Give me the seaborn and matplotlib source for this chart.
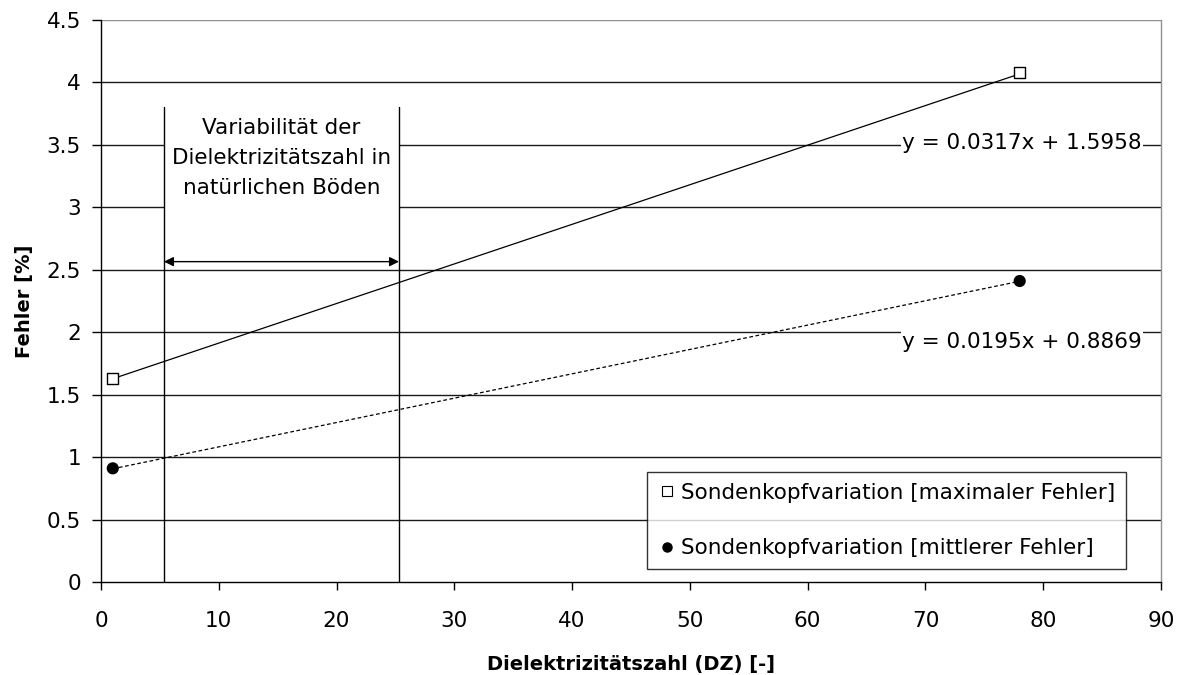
import numpy as np
import pandas as pd
import matplotlib
matplotlib.use("Agg")
import matplotlib.pyplot as plt
import seaborn as sns
from matplotlib.patches import Rectangle
from matplotlib.lines import Line2D

# data
dz = [1, 78]
max_err = [1.63, 4.08]
mean_err = [0.91, 2.41]
series_names = ["Sondenkopfvariation [maximaler Fehler]", "Sondenkopfvariation [mittlerer Fehler]"]
slopes = [0.0317, 0.0195]
intercepts = [1.5958, 0.8869]
eq_labels = ["y = 0.0317x + 1.5958", "y = 0.0195x + 0.8869"]
range_bounds = [5.35, 25.3]
range_text = "Variabilität der\nDielektrizitätszahl in\nnatürlichen Böden"
xticks = list(range(0, 100, 10))
yticks = [0, 0.5, 1, 1.5, 2, 2.5, 3, 3.5, 4, 4.5]
ytick_labels = ["0", "0.5", "1", "1.5", "2", "2.5", "3", "3.5", "4", "4.5"]

sns.set_theme(style="white")
plt.rcParams['font.family'] = ['DejaVu Sans']
plt.rcParams['text.color'] = 'black'
plt.rcParams['axes.labelcolor'] = 'black'
plt.rcParams['xtick.color'] = 'black'
plt.rcParams['ytick.color'] = 'black'

FS = 15.5

fig = plt.figure(figsize=(11.84, 6.75), dpi=100)
ax = fig.add_axes([0.0853, 0.1378, 0.8953, 0.8326])

df = pd.DataFrame({
    "DZ": dz + dz,
    "Fehler": max_err + mean_err,
    "Serie": [series_names[0]] * 2 + [series_names[1]] * 2,
})

# gridlines
for yv in yticks[1:-1]:
    ax.axhline(yv, color="#1a1a1a", lw=1.0, zorder=0)
ax.axhline(yticks[-1], color="#909090", lw=1.0, zorder=0)

# trend lines
xs = np.array([dz[0], dz[1]])
ax.plot(xs, slopes[0] * xs + intercepts[0], color="black", lw=0.9, ls="-", zorder=3)
ax.plot(xs, slopes[1] * xs + intercepts[1], color="black", lw=0.9, ls=(0, (3, 2)), zorder=3)

# range annotation
ax.add_patch(Rectangle((range_bounds[0], 2.63), range_bounds[1] - range_bounds[0], 3.8 - 2.63,
                       facecolor="white", edgecolor="none", zorder=1))
for xb in range_bounds:
    ax.plot([xb, xb], [0, 3.8], color="black", lw=1.0, zorder=2)
ax.text(np.mean(range_bounds), 3.395, range_text, ha="center", va="center",
        fontsize=FS, linespacing=1.62, color="black", zorder=4)
ax.annotate("", xy=(range_bounds[0], 2.565), xytext=(range_bounds[1], 2.565),
            arrowprops=dict(arrowstyle="<|-|>", color="black", lw=1.0,
                            mutation_scale=14, shrinkA=0, shrinkB=0), zorder=4)

# markers
sns.scatterplot(data=df, x="DZ", y="Fehler", hue="Serie", style="Serie",
                markers={series_names[0]: "s", series_names[1]: "o"},
                palette={series_names[0]: "white", series_names[1]: "black"},
                edgecolor="black", s=60, linewidth=1.0, ax=ax, zorder=5, legend=False)

# equation labels
ax.text(78.2, 3.515, eq_labels[0], ha="center", va="center", fontsize=FS, color="black",
        bbox=dict(facecolor="white", edgecolor="none", pad=1.0), zorder=4)
ax.text(78.2, 1.92, eq_labels[1], ha="center", va="center", fontsize=FS, color="black",
        bbox=dict(facecolor="white", edgecolor="none", pad=1.0), zorder=4)

# legend
handles = [
    Line2D([], [], ls="none", marker="s", markersize=7, markerfacecolor="white",
           markeredgecolor="black", markeredgewidth=0.8),
    Line2D([], [], ls="none", marker="o", markersize=6.5, markerfacecolor="black",
           markeredgecolor="black"),
]
leg = ax.legend(handles, series_names, loc="lower right", bbox_to_anchor=(0.967, 0.023),
                fontsize=FS, frameon=True, fancybox=False, handlelength=0.9,
                handletextpad=0.2, labelspacing=1.65, borderpad=0.5, borderaxespad=0)
leg.get_frame().set_edgecolor("black")
leg.get_frame().set_linewidth(1.0)
leg.set_zorder(6)
for t in leg.get_texts():
    t.set_color("black")

ax.set_xlim(0, 90)
ax.set_ylim(0, 4.5)
ax.set_xticks(xticks)
ax.set_yticks(yticks)
ax.set_yticklabels(ytick_labels)
ax.tick_params(axis="both", direction="out", width=1, color="black",
               labelsize=FS, labelcolor="black")
ax.tick_params(axis="y", length=6.5, pad=8)
ax.tick_params(axis="x", length=6, pad=15)
ax.tick_params(bottom=True, left=True)

for s in ["left", "bottom"]:
    ax.spines[s].set_color("black")
    ax.spines[s].set_linewidth(1.0)
ax.spines["right"].set_color("#909090")
ax.spines["top"].set_visible(False)
ax.spines["right"].set_linewidth(1.0)

ax.set_xlabel("Dielektrizitätszahl (DZ) [-]", fontsize=14, fontweight="bold", labelpad=17,
              color="black")
ax.set_ylabel("Fehler [%]", fontsize=14, fontweight="bold", labelpad=9, color="black")

fig.savefig("out.png", dpi=100, facecolor="white")
